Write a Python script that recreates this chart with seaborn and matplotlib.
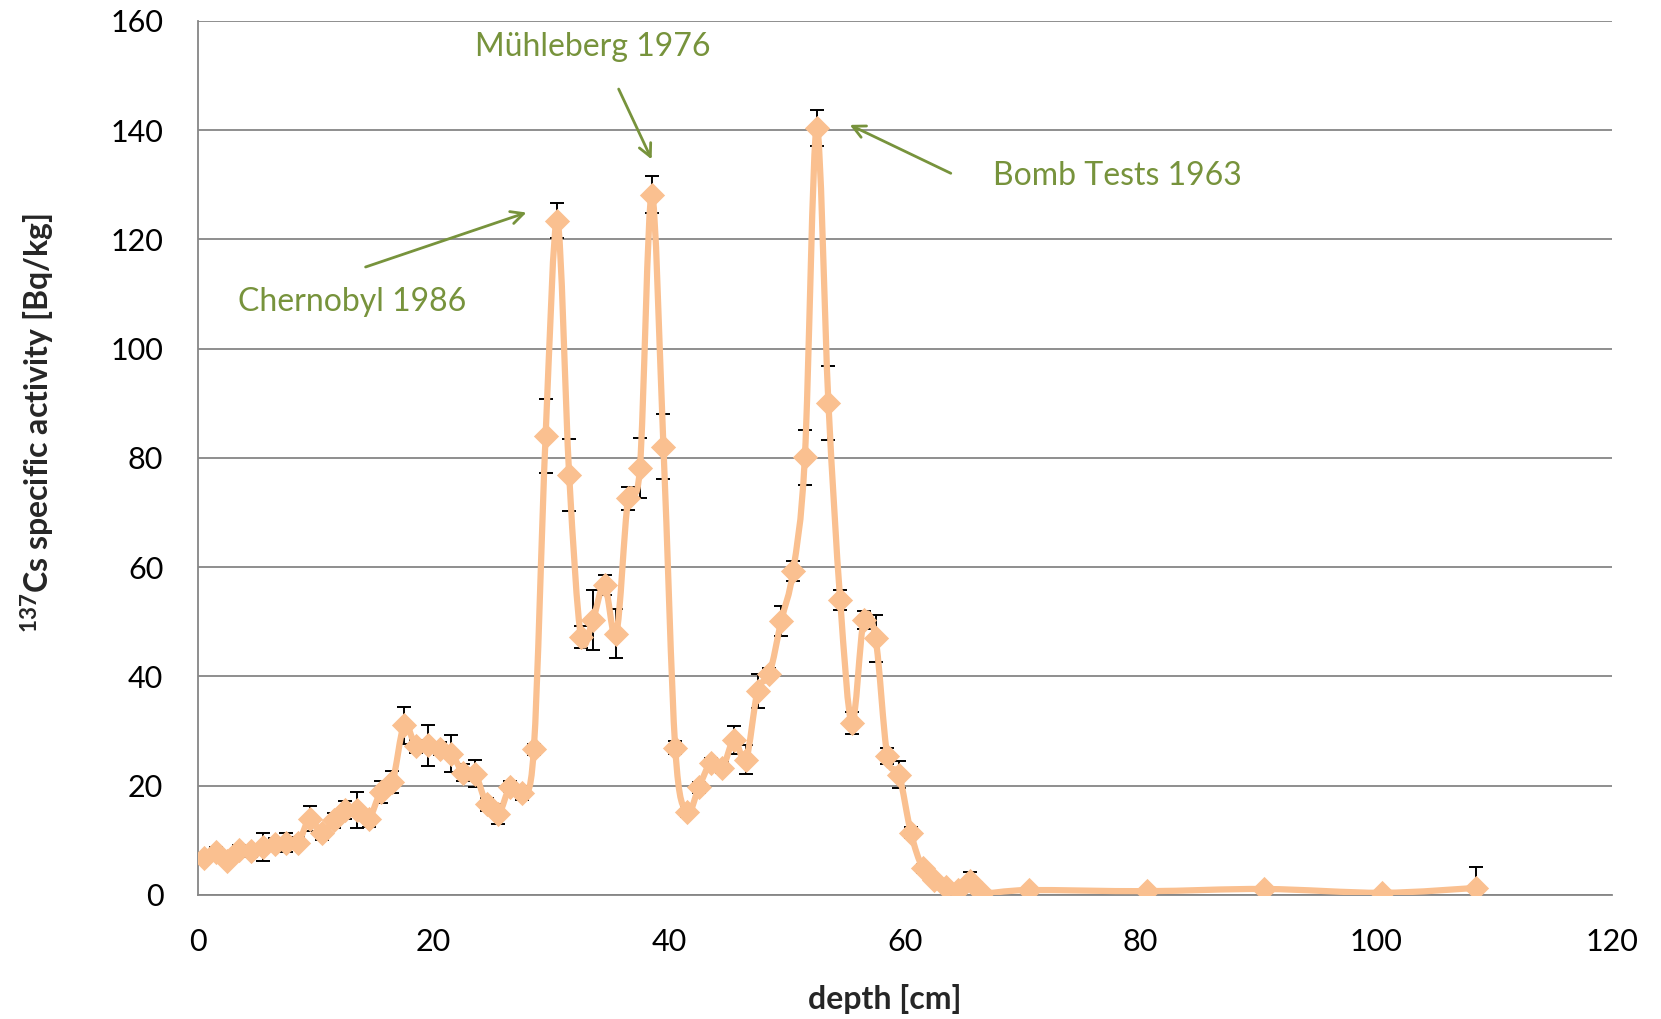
import seaborn as sns
import matplotlib.pyplot as plt
from matplotlib.path import Path
from matplotlib.patches import PathPatch
import numpy as np

# depth of each slice [cm] and measured 137Cs activity [Bq/kg]
depth = [0.5, 1.5, 2.5, 3.5, 4.5, 5.5, 6.5, 7.5, 8.5, 9.5,
         10.5, 11.5, 12.5, 13.5, 14.5, 15.5, 16.5, 17.5, 18.5, 19.5,
         20.5, 21.5, 22.5, 23.5, 24.5, 25.5, 26.5, 27.5, 28.5, 29.5,
         30.5, 31.5, 32.5, 33.5, 34.5, 35.5, 36.5, 37.5, 38.5, 39.5,
         40.5, 41.5, 42.5, 43.5, 44.5, 45.5, 46.5, 47.5, 48.5, 49.5,
         50.5, 51.5, 52.5, 53.5, 54.5, 55.5, 56.5, 57.5, 58.5, 59.5,
         60.5, 61.5, 62.5, 63.5, 64.5, 65.5, 66.5,
         70.5, 80.5, 90.5, 100.5, 108.5]
activity = [6.7, 7.9, 6.3, 8.3, 8.0, 8.8, 9.4, 9.6, 9.6, 14.0,
            11.3, 13.7, 15.6, 15.6, 14.0, 18.9, 20.7, 31.1, 27.2, 27.4,
            26.8, 25.9, 22.4, 22.2, 16.6, 14.8, 19.8, 18.7, 26.7, 84.0,
            123.4, 76.9, 47.3, 50.3, 56.8, 47.8, 72.6, 78.1, 128.2, 82.1,
            27.0, 15.2, 19.7, 24.1, 23.3, 28.4, 24.8, 37.4, 40.5, 50.2,
            59.3, 80.1, 140.4, 90.1, 54.0, 31.5, 50.3, 47.0, 25.4, 22.0,
            11.4, 4.9, 2.7, 1.4, 0.9, 2.6, 0.4,
            0.9, 0.7, 1.1, 0.4, 1.3]
error = [0.7, 0.8, 0.7, 0.8, 1.0, 2.5, 1.0, 1.8, 1.0, 2.2,
         1.2, 1.4, 1.6, 3.3, 1.5, 2.0, 2.0, 3.4, 1.2, 3.8,
         1.2, 3.3, 1.5, 2.5, 1.2, 1.8, 1.0, 1.3, 1.0, 6.8,
         3.2, 6.6, 2.0, 5.5, 1.8, 4.5, 2.1, 5.5, 3.4, 6.0,
         1.2, 1.0, 1.0, 1.0, 1.0, 2.5, 2.6, 3.1, 1.0, 2.7,
         1.8, 5.0, 3.3, 6.8, 1.9, 2.0, 1.6, 4.3, 1.5, 2.5,
         1.0, 0.8, 0.5, 0.3, 0.3, 1.6, 0.2,
         0.3, 0.3, 0.3, 0.2, 3.8]

# annotations: label, text position, arrow tail, arrow head (data units)
notes = [
    ("Mühleberg 1976", (33.5, 155.2), (35.6, 148.0), (38.6, 134.2)),
    ("Bomb Tests 1963", (78.0, 131.7), (64.1, 131.9), (55.1, 141.2)),
    ("Chernobyl 1986", (13.1, 108.6), (14.0, 114.8), (28.1, 125.1)),
]

line_col = "#FAC090"
note_col = "#77933C"
grid_col = "#868686"

sns.set_style("white")
plt.rcParams['font.family'] = ['Lato', 'DejaVu Sans']
plt.rcParams['mathtext.fontset'] = 'custom'
plt.rcParams['mathtext.rm'] = 'Lato'
plt.rcParams['mathtext.bf'] = 'Lato:bold'

fig = plt.figure(figsize=(16.61, 10.19), dpi=100)
ax = fig.add_axes([0.1192, 0.1217, 0.8513, 0.8577])

# error bars behind the curve
ax.errorbar(depth, activity, yerr=error, fmt='none', ecolor='black',
            elinewidth=1.4, capsize=5, capthick=1.4, zorder=2)

# smoothed line (Catmull-Rom as cubic Bezier segments, like Excel's smoothing)
pts = np.column_stack([depth, activity])
verts = [pts[0]]
codes = [Path.MOVETO]
n = len(pts)
for i in range(n - 1):
    p0 = pts[i - 1] if i > 0 else pts[i]
    p1 = pts[i]
    p2 = pts[i + 1]
    p3 = pts[i + 2] if i + 2 < n else pts[i + 1]
    c1 = p1 + (p2 - p0) / 6.0
    c2 = p2 - (p3 - p1) / 6.0
    verts += [c1, c2, p2]
    codes += [Path.CURVE4] * 3
ax.add_patch(PathPatch(Path(verts, codes), facecolor='none',
                       edgecolor=line_col, lw=4.5, zorder=3,
                       capstyle='round', joinstyle='round'))

sns.scatterplot(x=depth, y=activity, marker='D', s=165, color=line_col,
                linewidth=0, ax=ax, zorder=4)

for label, txt, tail, head in notes:
    ax.text(txt[0], txt[1], label, color=note_col, fontsize=23,
            ha='center', va='center')
    ax.annotate("", xy=head, xytext=tail,
                arrowprops=dict(arrowstyle='->,head_length=0.9,head_width=0.45',
                                color=note_col, lw=2))

ax.set_xlim(0, 120)
ax.set_ylim(0, 160)
ax.set_xticks(range(0, 121, 20))
ax.set_yticks(range(0, 161, 20))
ax.yaxis.grid(True, color=grid_col, lw=1.3)
ax.xaxis.grid(False)
ax.set_axisbelow(True)
for side in ['top', 'right']:
    ax.spines[side].set_visible(False)
for side in ['left', 'bottom']:
    ax.spines[side].set_color(grid_col)
    ax.spines[side].set_linewidth(1.3)
ax.tick_params(axis='both', labelsize=22, labelcolor='black', length=7,
               width=1.3, direction='out', color=grid_col)
ax.tick_params(axis='y', pad=18)
ax.tick_params(axis='x', pad=17)

ax.set_xlabel("depth [cm]", fontsize=23, fontweight='bold', labelpad=20)
ax.set_ylabel(r"$\mathbf{^{137}}$Cs specific activity [Bq/kg]", fontsize=23,
              fontweight='bold', labelpad=38)
ax.xaxis.label.set_x(0.486)
ax.yaxis.label.set_y(0.54)

fig.savefig("out.png", dpi=100)
